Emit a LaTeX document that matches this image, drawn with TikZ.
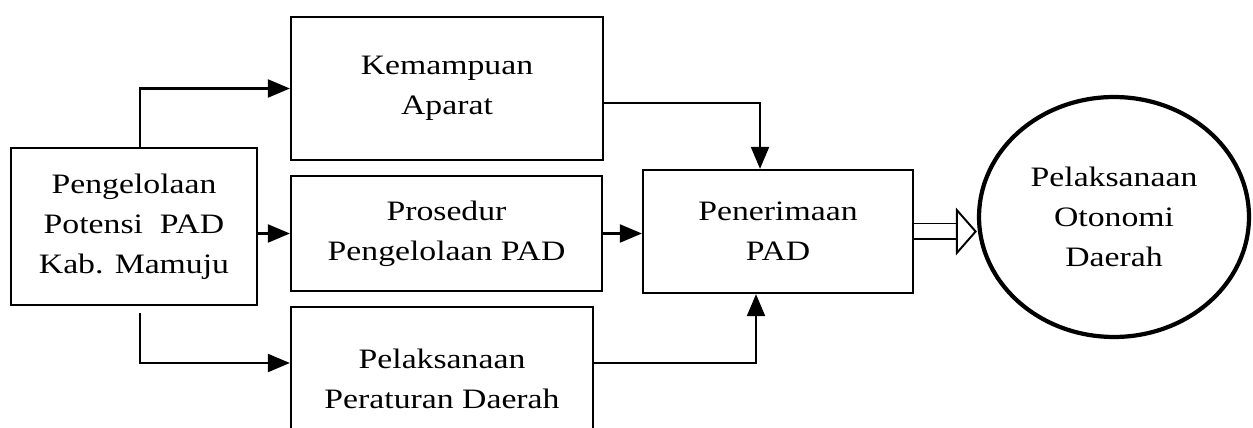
\documentclass[tikz,border=0pt]{standalone}
\usepackage{fontspec}
\setmainfont{Liberation Serif}[FakeStretch=1.2]
\usetikzlibrary{shapes.geometric, arrows.meta, positioning, calc}

\begin{document}
\begin{tikzpicture}[
    x=0.02cm, y=-0.02cm,
    box/.style={rectangle, draw=black, line width=1.3pt, align=center, inner sep=0pt, font=\fontsize{16}{22.8}\selectfont},
    goal/.style={ellipse, draw=black, line width=2.4pt, align=center, inner sep=0pt, minimum width=5.4cm, minimum height=4.8cm, font=\fontsize{16}{22.8}\selectfont},
    arrow/.style={-{Triangle[length=0.44cm, width=0.36cm]}, line width=1.2pt},
    big_arrow/.style={double, double distance=0.28cm, line width=1.1pt, -{Triangle[open, length=0.42cm, width=0.95cm]}}
]
\useasboundingbox (0,0) rectangle (1253,428);
\clip (0,0) rectangle (1253,428);

% --- Left: source ---
\node (potensi) [box, minimum width=4.92cm, minimum height=3.14cm] at (134,226.5) {Pengelolaan\\Potensi\ \ PAD\\Kab. Mamuju};

% --- Middle column ---
\node (aparat) [box, minimum width=6.24cm, minimum height=2.86cm] at (447,88.5) {Kemampuan\\Aparat};
\node (prosedur) [box, minimum width=6.22cm, minimum height=2.3cm] at (446.5,233.5) {Prosedur\\Pengelolaan PAD};
\node (perda) [box, minimum width=6.04cm, minimum height=2.86cm] at (442,378.5) {Pelaksanaan\\Peraturan Daerah};

% --- Right ---
\node (penerimaan) [box, minimum width=5.4cm, minimum height=2.46cm] at (778,231.5) {Penerimaan\\PAD};
\node (otonomi) [goal] at (1114,217) {Pelaksanaan\\Otonomi\\Daerah};

% --- Arrows ---
\draw [arrow] ([xshift=0.12cm]potensi.north) |- (aparat.west);
\draw [arrow] (prosedur.west -| potensi.east) -- (prosedur.west);
\draw [arrow] ([xshift=0.12cm, yshift=-0.14cm]potensi.south) |- ([yshift=0.31cm]perda.west);

\draw [arrow] ([yshift=-0.29cm]aparat.east) -| ([xshift=-0.36cm]penerimaan.north);
\draw [arrow] (prosedur.east) -- (prosedur.east -| penerimaan.west);
\draw [arrow] ([yshift=0.31cm]perda.east) -| ([xshift=-0.44cm]penerimaan.south);

\draw [big_arrow] (penerimaan.east) -- (penerimaan.east -| otonomi.west);

\end{tikzpicture}
\end{document}
